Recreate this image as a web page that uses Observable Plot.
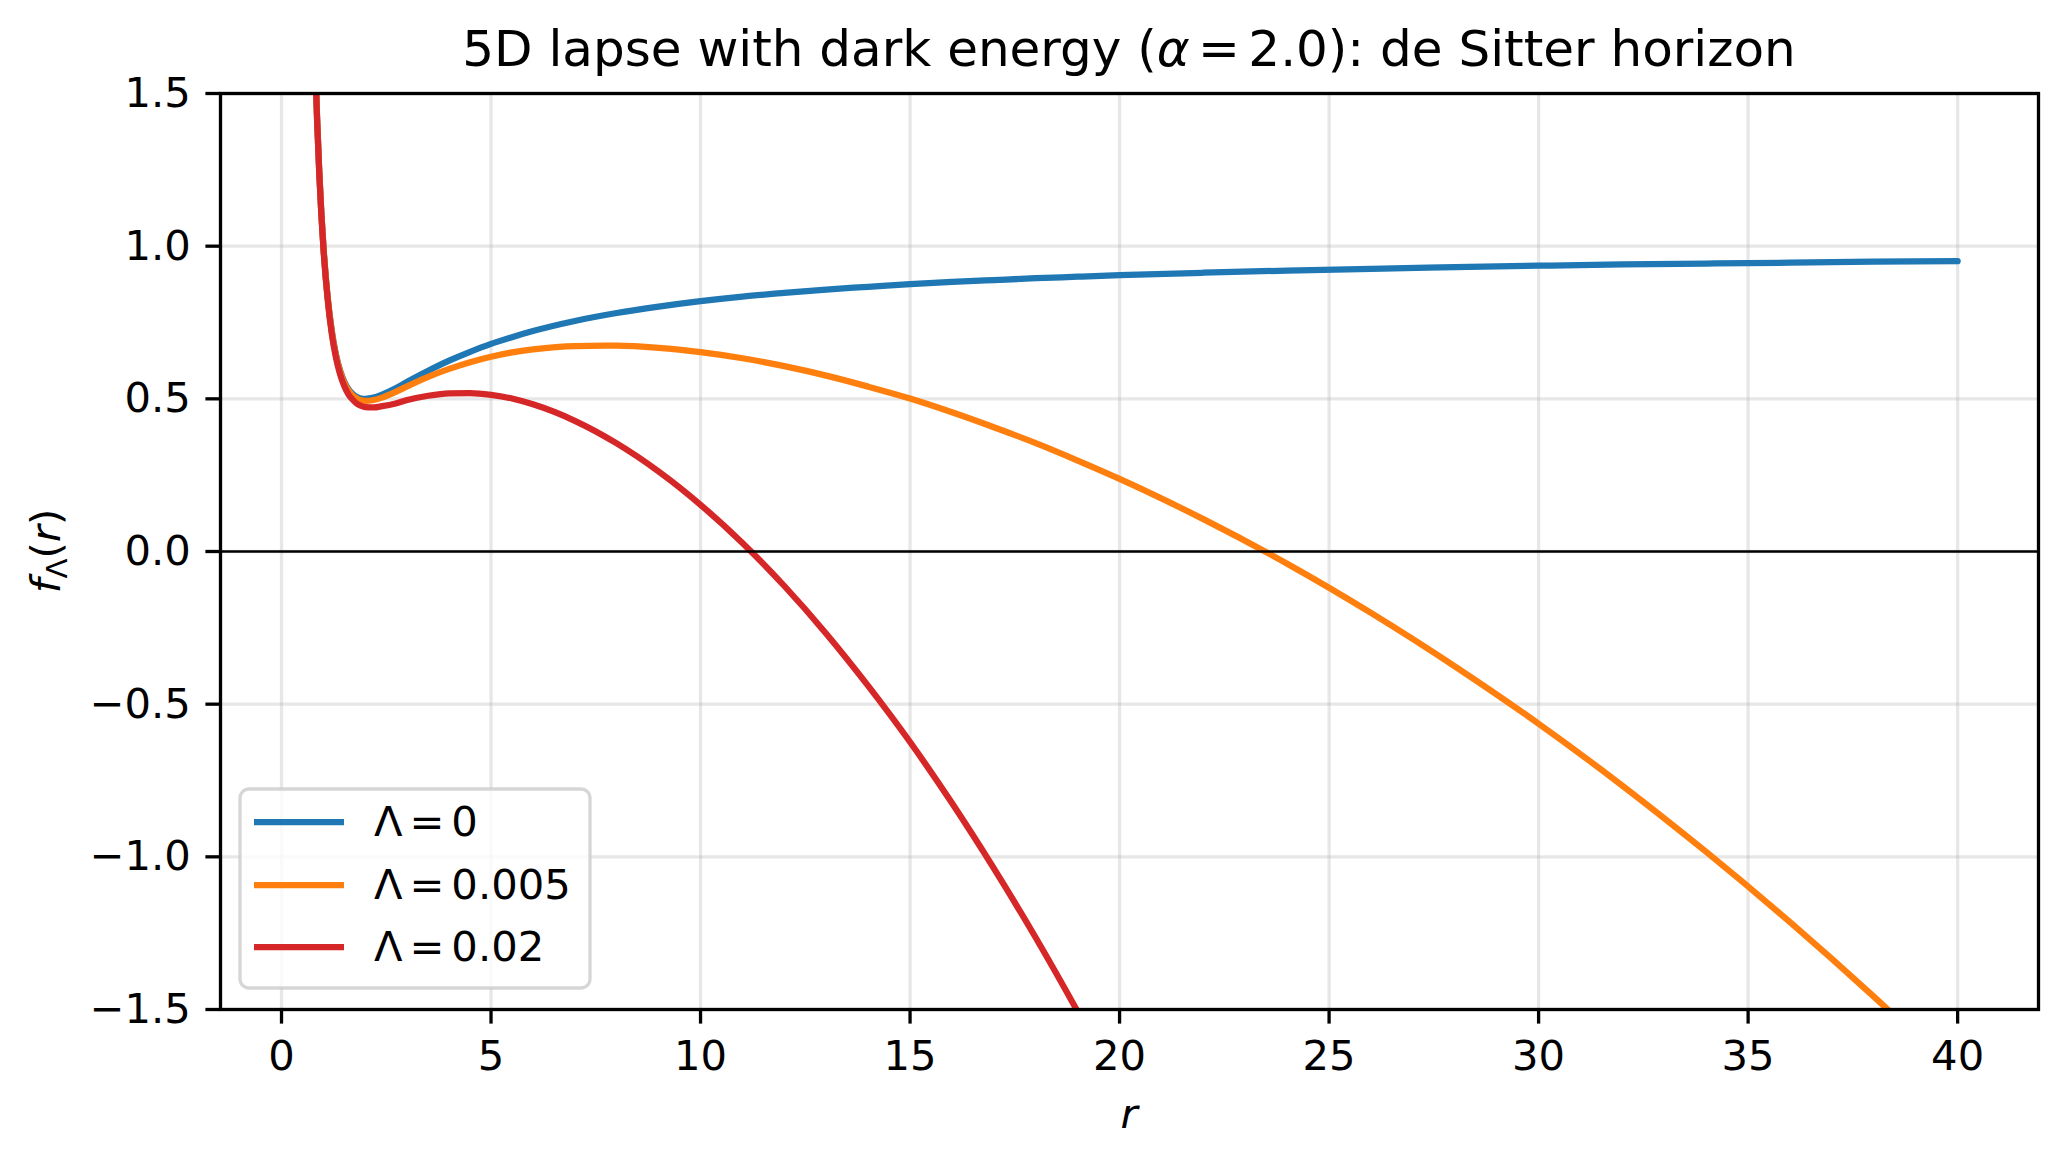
<!DOCTYPE html>
<html>
<head>
<meta charset="utf-8">
<script src="https://cdn.jsdelivr.net/npm/d3@7"></script>
<script src="https://cdn.jsdelivr.net/npm/@observablehq/plot@0.6"></script>
<style>
  html, body { margin: 0; padding: 0; background: white; }
  #chart svg { display: block; }
</style>
</head>
<body>
<div id="chart"></div>
<script>
// Lapse function f_Λ(r) sampled along r for three values of Λ (α = 2.0)
const r = [0.5, 0.6, 0.7, 0.75, 0.8, 0.85, 0.9, 0.95, 1.0, 1.1, 1.2, 1.3, 1.4, 1.5, 1.6, 1.7, 1.8, 1.9, 2.0,
  2.2, 2.4, 2.7, 3.0, 3.5, 4.0, 4.5, 5.0, 5.5, 6, 7, 8, 9, 10, 11, 12, 13, 14, 15, 16, 17, 18, 19, 20,
  22, 24, 26, 28, 30, 32, 34, 36, 38, 40];

const fLambda0 = [5.000, 3.222, 2.225, 1.889, 1.625, 1.415, 1.247, 1.111, 1.000, 0.835, 0.722, 0.645, 0.592,
  0.556, 0.531, 0.516, 0.506, 0.501, 0.500, 0.504, 0.514, 0.533, 0.556, 0.592, 0.625, 0.654, 0.680, 0.702,
  0.722, 0.755, 0.781, 0.802, 0.820, 0.835, 0.847, 0.858, 0.867, 0.876, 0.883, 0.889, 0.895, 0.900, 0.905,
  0.913, 0.920, 0.926, 0.931, 0.936, 0.940, 0.943, 0.946, 0.949, 0.951];

const fLambda005 = [5.000, 3.221, 2.224, 1.888, 1.624, 1.414, 1.246, 1.109, 0.998, 0.833, 0.720, 0.642, 0.589,
  0.552, 0.527, 0.511, 0.501, 0.495, 0.493, 0.496, 0.504, 0.521, 0.541, 0.572, 0.598, 0.620, 0.638, 0.652,
  0.662, 0.673, 0.674, 0.667, 0.653, 0.633, 0.607, 0.576, 0.540, 0.501, 0.456, 0.407, 0.355, 0.298, 0.238,
  0.106, -0.040, -0.201, -0.376, -0.564, -0.767, -0.984, -1.214, -1.458, -1.716];

const fLambda02 = [4.998, 3.220, 2.222, 1.885, 1.621, 1.410, 1.242, 1.105, 0.993, 0.827, 0.712, 0.634, 0.579,
  0.541, 0.514, 0.497, 0.484, 0.477, 0.473, 0.472, 0.476, 0.484, 0.496, 0.510, 0.518, 0.519, 0.513, 0.501,
  0.482, 0.428, 0.354, 0.262, 0.153, 0.028, -0.113, -0.269, -0.440, -0.624, -0.824, -1.038, -1.265, -1.507, -1.762,
  null, null, null, null, null, null, null, null, null, null];

const seriesLabels = ["0", "0.005", "0.02"];
const seriesColors = ["#1f77b4", "#ff7f0e", "#d62728"];

const xTicks = [0, 5, 10, 15, 20, 25, 30, 35, 40];
const yTicks = [-1.5, -1.0, -0.5, 0.0, 0.5, 1.0, 1.5];

const table = r.map((rv, i) => ({r: rv, a: fLambda0[i], b: fLambda005[i], c: fLambda02[i]}));
const keys = ["a", "b", "c"];

const W = 2069, H = 1169;
const mL = 220, mR = 31, mT = 93, mB = 160;
const fs = 41.7;
const thin = "\u2006"; // narrow space around "=" as in math typesetting

const chart = Plot.plot({
  width: W,
  height: H,
  marginLeft: mL,
  marginRight: mR,
  marginTop: mT,
  marginBottom: mB,
  style: {fontFamily: "DejaVu Sans", fontSize: fs + "px", background: "white", color: "black", overflow: "visible"},
  x: {domain: [-1.456, 41.93]},
  y: {domain: [-1.5, 1.5]},
  marks: [
    Plot.gridX(xTicks, {stroke: "#b0b0b0", strokeOpacity: 0.3, strokeWidth: 3.3}),
    Plot.gridY(yTicks, {stroke: "#b0b0b0", strokeOpacity: 0.3, strokeWidth: 3.3}),
    ...keys.map((k, i) => Plot.line(table, {
      x: "r", y: k, stroke: seriesColors[i], strokeWidth: 6.25,
      curve: "monotone-x", clip: true, strokeLinejoin: "round"
    })),
    Plot.ruleY([0], {stroke: "black", strokeWidth: 2.6}),
    Plot.frame({stroke: "black", strokeWidth: 3.3}),
    Plot.axisX({ticks: xTicks, tickSize: 14.6, strokeWidth: 3.3, tickPadding: 16,
      tickFormat: d => String(d), fontSize: fs, label: null}),
    Plot.axisY({ticks: yTicks, tickSize: 14.6, strokeWidth: 3.3, tickPadding: 15,
      tickFormat: d3.format(".1f"), fontSize: fs, label: null})
  ]
});

document.getElementById("chart").appendChild(chart);

const svg = d3.select(chart);
const cx = (mL + (W - mR)) / 2;

// Title
const title = svg.append("text")
  .attr("x", cx).attr("y", 66)
  .attr("text-anchor", "middle")
  .attr("font-family", "DejaVu Sans")
  .attr("font-size", 50)
  .attr("fill", "black");
title.append("tspan").text("5D lapse with dark energy (");
title.append("tspan").attr("font-style", "italic").text("α");
title.append("tspan").text(thin + "=" + thin + "2.0): de Sitter horizon");

// x-axis label
svg.append("text")
  .attr("x", cx).attr("y", 1128)
  .attr("text-anchor", "middle")
  .attr("font-family", "DejaVu Sans")
  .attr("font-style", "italic")
  .attr("font-size", fs)
  .attr("fill", "black")
  .text("r");

// y-axis label with subscript
const cy = (mT + (H - mB)) / 2;
const ylab = svg.append("text")
  .attr("transform", `translate(60,${cy}) rotate(-90)`)
  .attr("text-anchor", "middle")
  .attr("font-family", "DejaVu Sans")
  .attr("font-size", fs)
  .attr("fill", "black");
ylab.append("tspan").attr("font-style", "italic").text("f");
ylab.append("tspan").attr("font-size", fs * 0.7).attr("dy", 7).text("Λ");
ylab.append("tspan").attr("dy", -7).text("(");
ylab.append("tspan").attr("font-style", "italic").text("r");
ylab.append("tspan").text(")");

// Legend
const lg = svg.append("g");
lg.append("rect")
  .attr("x", 240).attr("y", 789).attr("width", 350).attr("height", 199)
  .attr("rx", 9).attr("ry", 9)
  .attr("fill", "white").attr("fill-opacity", 0.8)
  .attr("stroke", "#cccccc").attr("stroke-opacity", 0.8).attr("stroke-width", 3.3);
const rowY = [822, 885, 947];
seriesLabels.forEach((lab, i) => {
  lg.append("line")
    .attr("x1", 254).attr("x2", 344)
    .attr("y1", rowY[i]).attr("y2", rowY[i])
    .attr("stroke", seriesColors[i]).attr("stroke-width", 6.25);
  lg.append("text")
    .attr("x", 374).attr("y", rowY[i] + 14)
    .attr("text-anchor", "start")
    .attr("font-family", "DejaVu Sans")
    .attr("font-size", fs)
    .attr("fill", "black")
    .text("Λ" + thin + "=" + thin + lab);
});
</script>
</body>
</html>
